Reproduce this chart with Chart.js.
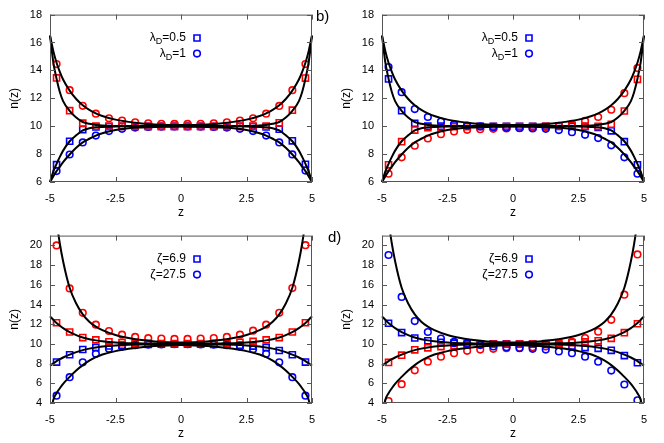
<!DOCTYPE html>
<html>
<head>
<meta charset="utf-8">
<script src="https://cdn.jsdelivr.net/npm/chart.js@4/dist/chart.umd.min.js"></script>
<style>
  body { margin: 0; background: #fff; width: 664px; height: 443px; position: relative; overflow: hidden;
         font-family: "Liberation Sans", Arial, sans-serif; }
  canvas { position: absolute; }
  .tag { position: absolute; font-size: 15px; line-height: 15px; color: #000; }
</style>
</head>
<body>
<canvas id="pa" width="332" height="221" style="left:0;top:0"></canvas>
<canvas id="pb" width="332" height="221" style="left:332px;top:0"></canvas>
<canvas id="pc" width="332" height="221" style="left:0;top:221px"></canvas>
<canvas id="pd" width="332" height="221" style="left:332px;top:221px"></canvas>
<div class="tag" style="left:316px;top:8px">b)</div>
<div class="tag" style="left:328px;top:229px">d)</div>
<script>
// sampling positions of the symbols and of the black curves
const zPts = [-4.75, -4.25, -3.75, -3.25, -2.75, -2.25, -1.75, -1.25, -0.75, -0.25,
              0.25, 0.75, 1.25, 1.75, 2.25, 2.75, 3.25, 3.75, 4.25, 4.75];
const zLine = [-5, -4.875, -4.75, -4.625, -4.5, -4.25, -4, -3.75, -3.5, -3.25, -3, -2.5, -2, -1.5, -1, -0.5, 0,
               0.5, 1, 1.5, 2, 2.5, 3, 3.25, 3.5, 3.75, 4, 4.25, 4.5, 4.625, 4.75, 4.875, 5];
const xTicks = [-5, -2.5, 0, 2.5, 5];
const yTicksTop = [6, 8, 10, 12, 14, 16, 18];
const yTicksBot = [4, 6, 8, 10, 12, 14, 16, 18, 20];

// panel a (top left)
const aRedCirc  = [14.45, 12.58, 11.46, 10.9, 10.57, 10.4, 10.28, 10.21, 10.17, 10.16, 10.16, 10.17, 10.21, 10.28, 10.4, 10.57, 10.9, 11.45, 12.58, 14.46];
const aRedSq    = [13.46, 11.11, 10.22, 10.0, 10.0, 9.99, 9.99, 9.99, 9.99, 9.99, 9.99, 9.99, 9.99, 9.99, 9.99, 10.0, 10.0, 10.24, 11.15, 13.45];
const aBlueSq   = [7.24, 8.92, 9.76, 9.95, 9.98, 9.99, 9.99, 9.99, 9.99, 9.99, 9.99, 9.99, 9.99, 9.99, 9.99, 9.98, 9.95, 9.78, 8.95, 7.27];
const aBlueCirc = [6.78, 7.97, 8.84, 9.33, 9.65, 9.81, 9.9, 9.95, 9.97, 9.98, 9.98, 9.97, 9.95, 9.9, 9.81, 9.65, 9.33, 8.84, 7.98, 6.82];

// panel b (top right)
const bBlueCirc = [14.24, 12.44, 11.23, 10.66, 10.33, 10.14, 10.05, 9.99, 9.93, 9.88, 9.87, 9.84, 9.81, 9.72, 9.57, 9.38, 9.15, 8.63, 7.77, 6.59];
const bRedCirc  = [6.59, 7.77, 8.6, 9.12, 9.43, 9.62, 9.74, 9.79, 9.81, 9.84, 9.86, 9.9, 9.95, 10.03, 10.16, 10.38, 10.66, 11.18, 12.37, 14.17];
const bRedSq    = [7.23, 8.89, 9.72, 9.9, 9.93, 9.96, 9.97, 9.98, 9.98, 9.98, 9.98, 9.98, 9.99, 10.0, 10.05, 10.0, 9.99, 10.14, 11.09, 13.36];
const bBlueSq   = [13.39, 11.11, 10.21, 10.0, 10.0, 10.0, 10.0, 9.99, 9.99, 9.99, 9.99, 9.99, 9.99, 9.98, 9.98, 9.97, 9.92, 9.67, 8.89, 7.23];

// panel c (bottom left)
const cRedCirc  = [20.0, 15.64, 13.16, 11.95, 11.31, 10.94, 10.71, 10.58, 10.54, 10.51, 10.51, 10.54, 10.6, 10.71, 10.94, 11.34, 11.95, 13.16, 15.67, 20.03];
const cRedSq    = [12.15, 11.21, 10.64, 10.41, 10.22, 10.14, 10.08, 10.05, 10.04, 10.03, 10.03, 10.04, 10.05, 10.08, 10.17, 10.25, 10.41, 10.64, 11.21, 12.15];
const cBlueSq   = [8.16, 8.9, 9.43, 9.63, 9.8, 9.87, 9.94, 9.96, 9.97, 9.98, 9.98, 9.97, 9.96, 9.94, 9.87, 9.78, 9.63, 9.33, 8.9, 8.16];
const cBlueCirc = [4.74, 6.62, 8.13, 9.0, 9.5, 9.73, 9.87, 9.93, 9.95, 9.97, 9.97, 9.95, 9.93, 9.87, 9.73, 9.47, 9.0, 8.13, 6.62, 4.74];

// panel d (bottom right)
const dBlueCirc = [19.03, 14.77, 12.32, 11.21, 10.54, 10.2, 10.03, 9.88, 9.75, 9.65, 9.57, 9.5, 9.43, 9.23, 9.06, 8.7, 8.19, 7.29, 5.88, 4.27];
const dRedCirc  = [4.2, 5.91, 7.32, 8.19, 8.7, 9.06, 9.3, 9.43, 9.5, 9.57, 9.6, 9.65, 9.75, 9.95, 10.2, 10.6, 11.24, 12.45, 15.0, 19.09];
const dRedSq    = [8.12, 8.86, 9.4, 9.6, 9.73, 9.84, 9.9, 9.95, 9.97, 9.98, 9.98, 9.99, 10.04, 10.08, 10.14, 10.2, 10.31, 10.57, 11.14, 12.05];
const dBlueSq   = [12.1, 11.15, 10.6, 10.32, 10.17, 10.08, 10.04, 10.02, 10.0, 10.0, 9.99, 9.97, 9.95, 9.88, 9.78, 9.63, 9.55, 9.35, 8.82, 8.09];

// black curves, top row (lambda_D = 1 and 0.5)
const lnUp1  = [16.5, 15.4, 14.55, 13.9, 13.35, 12.55, 11.95, 11.5, 11.17, 10.92, 10.73, 10.47, 10.31, 10.2, 10.13, 10.09, 10.08,
                10.09, 10.13, 10.2, 10.31, 10.47, 10.73, 10.92, 11.17, 11.5, 11.95, 12.55, 13.35, 13.9, 14.55, 15.4, 16.5];
const lnUp05 = [16.5, 14.6, 13.4, 12.45, 11.8, 11.1, 10.62, 10.3, 10.17, 10.09, 10.05, 10.02, 10.01, 10.01, 10.01, 10.01, 10.01,
                10.01, 10.01, 10.01, 10.01, 10.02, 10.05, 10.09, 10.17, 10.3, 10.62, 11.1, 11.8, 12.45, 13.4, 14.6, 16.5];
const lnLo05 = [6, 6.75, 7.3, 7.8, 8.25, 8.92, 9.35, 9.7, 9.85, 9.92, 9.95, 9.98, 9.99, 9.99, 9.99, 9.99, 9.99,
                9.99, 9.99, 9.99, 9.99, 9.98, 9.95, 9.92, 9.85, 9.7, 9.35, 8.92, 8.25, 7.8, 7.3, 6.75, 6];
const lnLo1  = [6, 6.4, 6.78, 7.1, 7.42, 7.97, 8.45, 8.84, 9.1, 9.33, 9.5, 9.72, 9.85, 9.91, 9.95, 9.96, 9.97,
                9.96, 9.95, 9.91, 9.85, 9.72, 9.5, 9.33, 9.1, 8.84, 8.45, 7.97, 7.42, 7.1, 6.78, 6.4, 6];

// black curves, bottom row (zeta = 27.5 and 6.9)
const lnUp27 = [30, 25.5, 22.5, 20.2, 18.4, 15.7, 14.1, 13.0, 12.25, 11.75, 11.4, 10.9, 10.6, 10.4, 10.25, 10.17, 10.15,
                10.17, 10.25, 10.4, 10.6, 10.9, 11.4, 11.75, 12.25, 13.0, 14.1, 15.7, 18.4, 20.2, 22.5, 25.5, 30];
const lnUp69 = [12.8, 12.45, 12.12, 11.85, 11.6, 11.2, 10.9, 10.65, 10.48, 10.36, 10.27, 10.15, 10.08, 10.05, 10.03, 10.02, 10.02,
                10.02, 10.03, 10.05, 10.08, 10.15, 10.27, 10.36, 10.48, 10.65, 10.9, 11.2, 11.6, 11.85, 12.12, 12.45, 12.8];
const lnLo69 = [7.8, 8.03, 8.25, 8.45, 8.62, 8.92, 9.17, 9.37, 9.52, 9.64, 9.73, 9.85, 9.92, 9.95, 9.97, 9.98, 9.98,
                9.98, 9.97, 9.95, 9.92, 9.85, 9.73, 9.64, 9.52, 9.37, 9.17, 8.92, 8.62, 8.45, 8.25, 8.03, 7.8];
const lnLo27 = [2.5, 4.3, 5.0, 5.5, 5.95, 6.65, 7.3, 7.85, 8.3, 8.65, 8.92, 9.27, 9.5, 9.67, 9.78, 9.85, 9.88,
                9.85, 9.78, 9.67, 9.5, 9.27, 8.92, 8.65, 8.3, 7.85, 7.3, 6.65, 5.95, 5.5, 5.0, 4.3, 2.5];

const keyLambda = [['λ', 'D', '=0.5'], ['λ', 'D', '=1']];
const keyZeta = [['ζ', '', '=6.9'], ['ζ', '', '=27.5']];

const RED = '#ff0000', BLUE = '#0000ff';
const FONT = '"Liberation Sans", Arial, sans-serif';

// frame with inward ticks on all four sides
const framePlugin = {
  id: 'frame',
  afterDatasetsDraw(chart) {
    const {ctx, chartArea: a, scales: {x, y}} = chart;
    ctx.save();
    ctx.strokeStyle = '#555';
    ctx.lineWidth = 1;
    ctx.beginPath();
    x.ticks.forEach(t => {
      const px = Math.round(x.getPixelForValue(t.value)) + 0.5;
      ctx.moveTo(px, a.bottom); ctx.lineTo(px, a.bottom - 5);
      ctx.moveTo(px, a.top); ctx.lineTo(px, a.top + 5);
    });
    y.ticks.forEach(t => {
      const py = Math.round(y.getPixelForValue(t.value)) + 0.5;
      ctx.moveTo(a.left, py); ctx.lineTo(a.left + 5, py);
      ctx.moveTo(a.right, py); ctx.lineTo(a.right - 5, py);
    });
    ctx.stroke();
    ctx.strokeRect(a.left + 0.5, a.top + 0.5, a.width - 1, a.height - 1);
    ctx.restore();
  }
};

// key with subscript text, right aligned, symbol on the right
const keyPlugin = {
  id: 'key',
  afterDraw(chart, args, opts) {
    const ctx = chart.ctx;
    ctx.save();
    ctx.fillStyle = '#000';
    ctx.textBaseline = 'middle';
    ctx.textAlign = 'left';
    opts.rows.forEach((r, i) => {
      const y = 38 + i * 15.6;
      ctx.font = '12px ' + FONT;
      const wMain = ctx.measureText(r[0]).width;
      const wRest = ctx.measureText(r[2]).width;
      ctx.font = '9px ' + FONT;
      const wSub = r[1] ? ctx.measureText(r[1]).width : 0;
      let x = 186 - wRest - wSub - wMain;
      ctx.font = '12px ' + FONT;
      ctx.fillText(r[0], x, y);
      x += wMain;
      if (r[1]) {
        ctx.font = '9px ' + FONT;
        ctx.fillText(r[1], x, y + 3.5);
        x += wSub;
      }
      ctx.font = '12px ' + FONT;
      ctx.fillText(r[2], x, y);
      // symbol
      ctx.strokeStyle = BLUE;
      ctx.lineWidth = 1.6;
      ctx.beginPath();
      if (i === 0) ctx.rect(194, y - 3, 6, 6);
      else ctx.arc(197, y, 3.3, 0, Math.PI * 2);
      ctx.stroke();
    });
    ctx.restore();
  }
};

function makePanel(id, yMin, yMax, yTicks, sets, lines, key) {
  const pointSets = sets.map(s => ({
    data: zPts.map((z, i) => ({x: z, y: s.vals[i]})),
    pointStyle: s.shape,
    pointRadius: s.shape === 'rect' ? 4.3 : 3.3,
    borderColor: s.color,
    backgroundColor: 'rgba(0,0,0,0)',
    borderWidth: 1.6,
    showLine: false,
    order: 1
  }));
  const lineSets = lines.map(v => ({
    data: zLine.map((z, i) => ({x: z, y: v[i]})),
    showLine: true,
    pointRadius: 0,
    borderColor: '#000',
    borderWidth: 2,
    cubicInterpolationMode: 'monotone',
    clip: 1,
    order: 0
  }));

  new Chart(document.getElementById(id), {
    type: 'scatter',
    data: {datasets: pointSets.concat(lineSets)},
    plugins: [framePlugin, keyPlugin],
    options: {
      responsive: false,
      animation: false,
      events: [],
      layout: {padding: {top: 13, right: 20, left: 0, bottom: 0}},
      plugins: {legend: {display: false}, tooltip: {enabled: false}, key: {rows: key}},
      scales: {
        x: {
          type: 'linear', min: -5, max: 5,
          afterBuildTicks: s => { s.ticks = xTicks.map(v => ({value: v})); },
          afterFit: s => { s.height = 39; },
          grid: {display: false, drawTicks: false},
          border: {display: false},
          ticks: {padding: 10, color: '#000', font: {size: 11, family: FONT}},
          title: {display: true, text: 'z', color: '#000', font: {size: 12, family: FONT}, padding: {top: 0, bottom: 1}}
        },
        y: {
          type: 'linear', min: yMin, max: yMax,
          afterBuildTicks: s => { s.ticks = yTicks.map(v => ({value: v})); },
          afterFit: s => { s.width = 50; },
          grid: {display: false, drawTicks: false},
          border: {display: false},
          ticks: {padding: 8, color: '#000', font: {size: 11, family: FONT}},
          title: {display: true, text: 'n(z)', color: '#000', font: {size: 12, family: FONT}, padding: {top: 7, bottom: 0}}
        }
      }
    }
  });
}

makePanel('pa', 6, 18, yTicksTop, [
  {vals: aRedCirc, shape: 'circle', color: RED},
  {vals: aRedSq, shape: 'rect', color: RED},
  {vals: aBlueSq, shape: 'rect', color: BLUE},
  {vals: aBlueCirc, shape: 'circle', color: BLUE}
], [lnUp1, lnUp05, lnLo05, lnLo1], keyLambda);

makePanel('pb', 6, 18, yTicksTop, [
  {vals: bBlueCirc, shape: 'circle', color: BLUE},
  {vals: bRedCirc, shape: 'circle', color: RED},
  {vals: bRedSq, shape: 'rect', color: RED},
  {vals: bBlueSq, shape: 'rect', color: BLUE}
], [lnUp1, lnUp05, lnLo05, lnLo1], keyLambda);

makePanel('pc', 4, 21, yTicksBot, [
  {vals: cRedCirc, shape: 'circle', color: RED},
  {vals: cRedSq, shape: 'rect', color: RED},
  {vals: cBlueSq, shape: 'rect', color: BLUE},
  {vals: cBlueCirc, shape: 'circle', color: BLUE}
], [lnUp27, lnUp69, lnLo69, lnLo27], keyZeta);

makePanel('pd', 4, 21, yTicksBot, [
  {vals: dBlueCirc, shape: 'circle', color: BLUE},
  {vals: dRedCirc, shape: 'circle', color: RED},
  {vals: dRedSq, shape: 'rect', color: RED},
  {vals: dBlueSq, shape: 'rect', color: BLUE}
], [lnUp27, lnUp69, lnLo69, lnLo27], keyZeta);
</script>
</body>
</html>
